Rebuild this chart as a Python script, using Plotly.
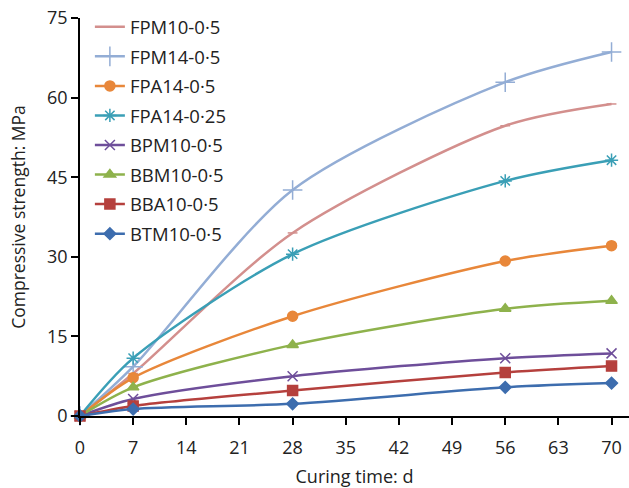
import plotly.graph_objects as go

days = [0, 7, 28, 56, 70]
names = ["FPM10-0·5", "FPM14-0·5", "FPA14-0·5", "FPA14-0·25",
         "BPM10-0·5", "BBM10-0·5", "BBA10-0·5", "BTM10-0·5"]
fpm10_05 = [0, 8.0, 34.5, 54.7, 58.8]
fpm14_05 = [0, 9.3, 42.6, 62.9, 68.6]
fpa14_05 = [0, 7.2, 18.8, 29.2, 32.1]
fpa14_025 = [0, 10.9, 30.5, 44.3, 48.2]
bpm10_05 = [0, 3.2, 7.5, 10.9, 11.8]
bbm10_05 = [0, 5.4, 13.4, 20.2, 21.7]
bba10_05 = [0, 1.9, 4.8, 8.2, 9.4]
btm10_05 = [0, 1.3, 2.3, 5.4, 6.2]
series = [fpm10_05, fpm14_05, fpa14_05, fpa14_025, bpm10_05, bbm10_05, bba10_05, btm10_05]

colors = ["#D38F8D", "#93ADD5", "#E8873A", "#3A9FB6", "#6E4E9A", "#8EB24C", "#B5403D", "#3D6DAE"]
symbols = ["line-ew-open", "cross-thin-open", "circle", "asterisk-open",
           "x-thin-open", "triangle-up", "square", "diamond"]
sizes = [7, 14, 10, 11, 10, 10, 10, 9]

fig = go.Figure()
for i, (n, s) in enumerate(zip(names, series)):
    fig.add_trace(go.Scatter(
        x=days, y=s, name=n, mode="lines+markers",
        line=dict(color=colors[i], width=2.5, shape="spline", smoothing=0.8),
        marker=dict(symbol=symbols[i], size=sizes[i], color=colors[i],
                    line=dict(color=colors[i], width=1.5)),
        legendgroup=str(i), cliponaxis=False,
    ))

font = "Open Sans, Noto Sans, sans-serif"
fig.update_layout(
    width=629, height=488,
    margin=dict(l=80, r=0, t=18, b=72, autoexpand=False),
    paper_bgcolor="white", plot_bgcolor="white",
    font=dict(family=font, size=18, color="#222"),
    showlegend=True,
    legend=dict(x=0.018, y=0.983, yref="container", xanchor="left", yanchor="top",
                font=dict(size=18.5, color="#222"), tracegroupgap=2.5,
                traceorder="grouped", itemwidth=30, bgcolor="rgba(0,0,0,0)"),
    xaxis=dict(range=[0, 72.3], tickvals=list(range(0, 71, 7)),
               showline=True, linecolor="black", linewidth=1.5,
               ticks="outside", ticklen=7, tickcolor="black", tickwidth=1.5,
               showgrid=False, zeroline=False, ticklabelstandoff=8,
               title=dict(text="Curing time: d", standoff=12, font=dict(size=18)),
               tickfont=dict(size=18)),
    yaxis=dict(range=[0, 75], tickvals=[0, 15, 30, 45, 60, 75],
               showline=True, linecolor="black", linewidth=1.5,
               ticks="outside", ticklen=7, tickcolor="black", tickwidth=1.5,
               showgrid=False, zeroline=False,
               title=dict(text="Compressive strength: MPa", standoff=17, font=dict(size=17.5)),
               tickfont=dict(size=18)),
)
fig.write_html("out.html")
